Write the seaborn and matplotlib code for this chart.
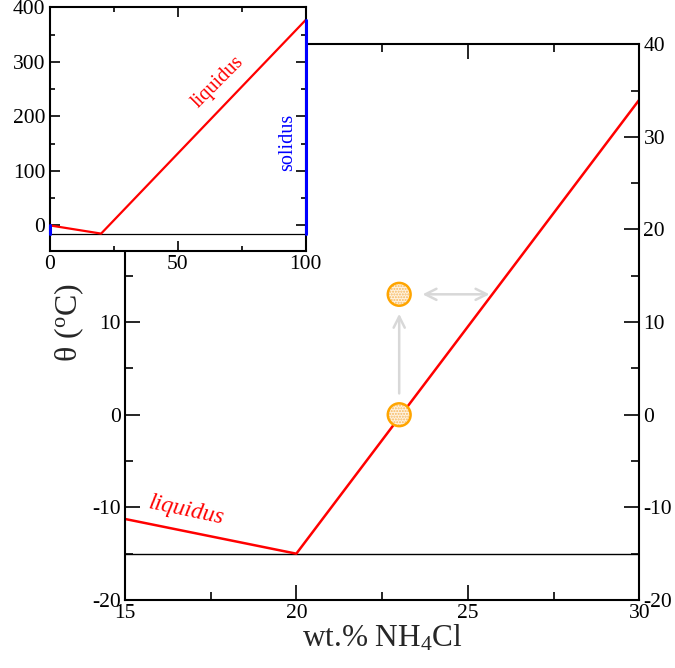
import numpy as np
import pandas as pd
import matplotlib
matplotlib.use("Agg")
import matplotlib.pyplot as plt
import seaborn as sns

# Phase diagram data (NH4Cl - H2O)
liquidus_x = [0, 20, 100]
liquidus_y = [0, -15, 377]
eutectic_x = [0, 100]
eutectic_y = [-15, -15]
solidus_x = [100, 100]
solidus_y = [-15, 377]
ice_x = [0, 0]
ice_y = [-15, 0]
point_x = [23, 23]
point_y = [0, 13]

sns.set_theme(style="ticks")
plt.rcParams["font.family"] = ["Liberation Serif", "DejaVu Serif"]
plt.rcParams["mathtext.fontset"] = "custom"
plt.rcParams["mathtext.rm"] = "Liberation Serif"
plt.rcParams["mathtext.it"] = "Liberation Serif:italic"
plt.rcParams["axes.unicode_minus"] = False

liq = pd.DataFrame({"x": liquidus_x, "y": liquidus_y})
eut = pd.DataFrame({"x": eutectic_x, "y": eutectic_y})
sol = pd.DataFrame({"x": solidus_x, "y": solidus_y})
ice = pd.DataFrame({"x": ice_x, "y": ice_y})
pts = pd.DataFrame({"x": point_x, "y": point_y})


def style_axes(ax, size, labelsize):
    ax.tick_params(which="both", direction="in", top=True, right=True,
                   labelsize=labelsize, colors="black", width=1.2)
    ax.tick_params(which="major", length=size)
    ax.tick_params(which="minor", length=size / 2)
    for s in ax.spines.values():
        s.set_linewidth(1.5)
        s.set_color("black")


fig = plt.figure(figsize=(6.75, 6.68), dpi=100)

# main axes
ax = fig.add_axes([0.185, 0.1018, 0.762, 0.832])
sns.lineplot(data=eut, x="x", y="y", ax=ax, color="black", lw=1.0)
sns.lineplot(data=liq, x="x", y="y", ax=ax, color="red", lw=1.8)
ax.set_xlim(15, 30)
ax.set_ylim(-20, 40)
ax.set_xticks([15, 20, 25, 30])
ax.set_xticks([17.5, 22.5, 27.5], minor=True)
ax.set_yticks(np.arange(-20, 41, 10))
ax.set_yticks(np.arange(-15, 40, 10), minor=True)
style_axes(ax, 11, 15.5)
ax.tick_params(labelright=True, pad=3)
ax.set_xlabel("wt.% NH$_4$Cl", fontsize=22.5, labelpad=0)
ax.set_ylabel("θ ($^{\\rm o}$C)", fontsize=23, labelpad=4)

# arrows between the two states
slope = (liquidus_y[2] - liquidus_y[1]) / (liquidus_x[2] - liquidus_x[1])
x_hit = liquidus_x[1] + (point_y[1] - liquidus_y[1]) / slope
arrow_kw = dict(color="#d8d8d8", lw=1.8, mutation_scale=20)
ax.annotate("", xy=(point_x[1], point_y[1] - 1.8), xytext=(point_x[0], point_y[0] + 2.0),
            arrowprops=dict(arrowstyle="->", **arrow_kw))
ax.annotate("", xy=(x_hit, point_y[1]), xytext=(point_x[1] + 0.6, point_y[1]),
            arrowprops=dict(arrowstyle="<->", **arrow_kw))

ax.scatter(pts["x"], pts["y"], s=270, facecolor="#fff3e0", edgecolor="#f5b860",
           hatch="......", linewidth=0, zorder=5)
ax.scatter(pts["x"], pts["y"], s=270, facecolor="none", edgecolor="orange",
           linewidth=1.8, zorder=6)

ax.text(16.8, -10.4, "liquidus", color="red", fontsize=17, style="italic",
        rotation=-12, ha="center", va="center")

# inset with the full diagram
ins = fig.add_axes([0.074, 0.625, 0.379, 0.364])
ins.set_facecolor("white")
sns.lineplot(data=eut, x="x", y="y", ax=ins, color="black", lw=0.9)
sns.lineplot(data=liq, x="x", y="y", ax=ins, color="red", lw=1.6)
sns.lineplot(data=sol, x="x", y="y", ax=ins, color="blue", lw=2.2, estimator=None,
             sort=False, clip_on=False, zorder=4)
sns.lineplot(data=ice, x="x", y="y", ax=ins, color="blue", lw=2.2, estimator=None,
             sort=False, clip_on=False, zorder=4)
ins.set_xlim(0, 100)
ins.set_ylim(-46, 400)
ins.set_xticks([0, 50, 100])
ins.set_xticks([25, 75], minor=True)
ins.set_yticks(np.arange(0, 401, 100))
ins.set_yticks(np.arange(50, 400, 100), minor=True)
style_axes(ins, 7, 15.5)
ins.set_xlabel("")
ins.set_ylabel("")
ins.text(65.5, 262, "liquidus", color="red", fontsize=14.5, rotation=45,
         ha="center", va="center")
ins.text(93, 152, "solidus", color="blue", fontsize=14.5, rotation=90,
         ha="center", va="center")

fig.savefig("out.png", dpi=100)
